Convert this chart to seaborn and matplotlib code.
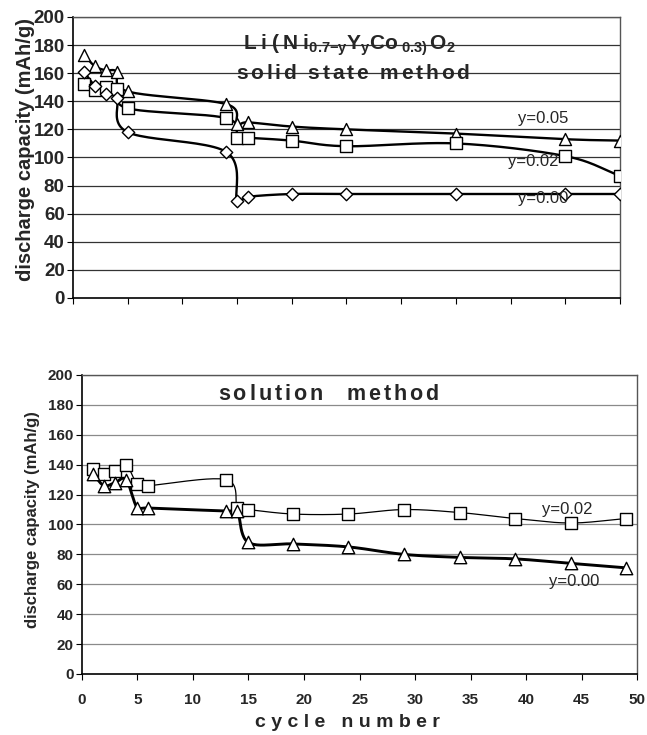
import matplotlib
matplotlib.use('Agg')
import matplotlib.pyplot as plt
import numpy as np
import pandas as pd
import seaborn as sns

# solid state method (upper panel)
solid_x = [1, 2, 3, 4, 5, 14, 15, 16, 20, 25, 35, 45, 50]
solid_y005 = [173, 165, 162, 161, 147, 138, 124, 125, 122, 120, 117, 113, 112]
solid_y002 = [152, 148, 150, 149, 135, 128, 114, 114, 112, 108, 110, 101, 87]
solid_y000 = [161, 151, 145, 142, 118, 104, 69, 72, 74, 74, 74, 74, 74]

# solution method (lower panel)
sol_x = [1, 2, 3, 4, 5, 6, 13, 14, 15, 19, 24, 29, 34, 39, 44, 49]
sol_y002 = [137, 134, 136, 140, 127, 126, 130, 111, 110, 107, 107, 110, 108, 104, 101, 104]
sol_y000 = [134, 126, 128, 130, 111, 111, 109, 109, 88, 87, 85, 80, 78, 77, 74, 71]

y_ticks = list(range(0, 201, 20))
x_ticks = list(range(0, 51, 5))

sns.set_style('white')
plt.rcParams['font.family'] = ['Liberation Sans', 'DejaVu Sans']
plt.rcParams['mathtext.fontset'] = 'custom'
plt.rcParams['mathtext.rm'] = 'Liberation Sans'
plt.rcParams['mathtext.bf'] = 'Liberation Sans:bold'
plt.rcParams['mathtext.it'] = 'Liberation Sans:italic'
plt.rcParams['mathtext.default'] = 'bf'


def spaced(*words, gap=r'\ \ '):
    # letter-spaced words as mathtext (thin space between letters)
    return '$' + gap.join(r'\,'.join(w) for w in words) + '$'


def smooth(x, y, n=24):
    # excel-like smoothed line (catmull-rom through the points)
    p = np.column_stack([x, y]).astype(float)
    p = np.vstack([2 * p[0] - p[1], p, 2 * p[-1] - p[-2]])
    t = np.linspace(0, 1, n, endpoint=False)[:, None]
    out = []
    for i in range(1, len(p) - 2):
        p0, p1, p2, p3 = p[i - 1], p[i], p[i + 1], p[i + 2]
        seg = 0.5 * (2 * p1 + (-p0 + p2) * t + (2 * p0 - 5 * p1 + 4 * p2 - p3) * t ** 2
                     + (-p0 + 3 * p1 - 3 * p2 + p3) * t ** 3)
        out.append(seg)
    out.append(p[-2][None])
    s = np.vstack(out)
    return pd.DataFrame({'x': s[:, 0], 'y': s[:, 1]})


def series(ax, x, y, marker, s, lw):
    c = smooth(x, y)
    sns.lineplot(data=c, x='x', y='y', sort=False, estimator=None, color='black',
                 lw=lw, ax=ax, zorder=3)
    sns.scatterplot(x=x, y=y, marker=marker, s=s, color='white', edgecolor='black',
                    linewidth=1.0, ax=ax, zorder=4)


fig = plt.figure(figsize=(6.47, 7.35), dpi=100)

# ---- upper panel
ax1 = fig.add_axes([0.1128, 0.5946, 0.8454, 0.3823])
series(ax1, solid_x, solid_y005, '^', 75, 1.7)
series(ax1, solid_x, solid_y002, 's', 75, 1.7)
series(ax1, solid_x, solid_y000, 'D', 40, 1.7)
ax1.set_xlim(0, 50)
ax1.set_ylim(0, 200)
ax1.set_xticks(x_ticks)
ax1.set_xticklabels([])
ax1.set_yticks(y_ticks)
ax1.set_yticklabels(y_ticks, fontsize=13.5, fontweight='bold')
ax1.tick_params(axis='both', direction='out', length=4, width=0.8, color='black',
                bottom=True, left=True)
ax1.tick_params(axis='y', pad=2)
for v in y_ticks[1:]:
    ax1.axhline(v, color='#333333', lw=0.9, zorder=1)
ax1.set_xlabel('')
ax1.set_ylabel('discharge capacity (mAh/g)', fontsize=14.5, fontweight='bold')
ax1.yaxis.set_label_coords(-0.07, 0.53)
for sp in ['left', 'bottom']:
    ax1.spines[sp].set_color('black')
    ax1.spines[sp].set_linewidth(1.2)
for sp in ['top', 'right']:
    ax1.spines[sp].set_color('#555555')
    ax1.spines[sp].set_linewidth(1.0)
ax1.text(25.3, 180, r'$L\;i\;(\;N\;i_{0.7{-}y}Y_yCo_{\ 0.3)}\,O_2$', ha='center',
         va='center', fontsize=15, zorder=5)
ax1.text(25.6, 160, spaced('solid', 'state', 'method'), ha='center', va='center',
         fontsize=15, zorder=5)
ax1.text(43, 128, 'y=0.05', ha='center', va='center', fontsize=12, zorder=5)
ax1.text(42.1, 97, 'y=0.02', ha='center', va='center', fontsize=12, zorder=5)
ax1.text(43, 70.5, 'y=0.00', ha='center', va='center', fontsize=12, zorder=5)

# ---- lower panel
ax2 = fig.add_axes([0.1263, 0.0830, 0.8587, 0.4068])
series(ax2, sol_x, sol_y002, 's', 85, 0.9)
series(ax2, sol_x, sol_y000, '^', 80, 2.1)
ax2.set_xlim(0, 50)
ax2.set_ylim(0, 200)
ax2.set_xticks(x_ticks)
ax2.set_xticklabels(x_ticks, fontsize=11, fontweight='bold')
ax2.set_yticks(y_ticks)
ax2.set_yticklabels(y_ticks, fontsize=11, fontweight='bold')
ax2.tick_params(axis='both', direction='out', length=4, width=0.8, color='black',
                bottom=True, left=True)
ax2.tick_params(axis='x', pad=10)
ax2.tick_params(axis='y', pad=2)
for v in y_ticks[1:]:
    ax2.axhline(v, color='#8a8a8a', lw=0.9, zorder=1)
ax2.set_xlabel('c y c l e   n u m b e r', fontsize=14, fontweight='bold')
ax2.xaxis.set_label_coords(0.479, -0.135)
ax2.set_ylabel('discharge capacity (mAh/g)', fontsize=12, fontweight='bold')
ax2.yaxis.set_label_coords(-0.075, 0.517)
for sp in ['left', 'bottom']:
    ax2.spines[sp].set_color('black')
    ax2.spines[sp].set_linewidth(1.2)
for sp in ['top', 'right']:
    ax2.spines[sp].set_color('#555555')
    ax2.spines[sp].set_linewidth(1.0)
ax2.text(22.2, 187, spaced('solution', 'method', gap=r'\ \ \ \ '), ha='center',
         va='center', fontsize=15.5, zorder=5)
ax2.text(43.7, 110, 'y=0.02', ha='center', va='center', fontsize=12, zorder=5)
ax2.text(44.3, 62, 'y=0.00', ha='center', va='center', fontsize=12, zorder=5)

fig.savefig('out.png', dpi=100)
